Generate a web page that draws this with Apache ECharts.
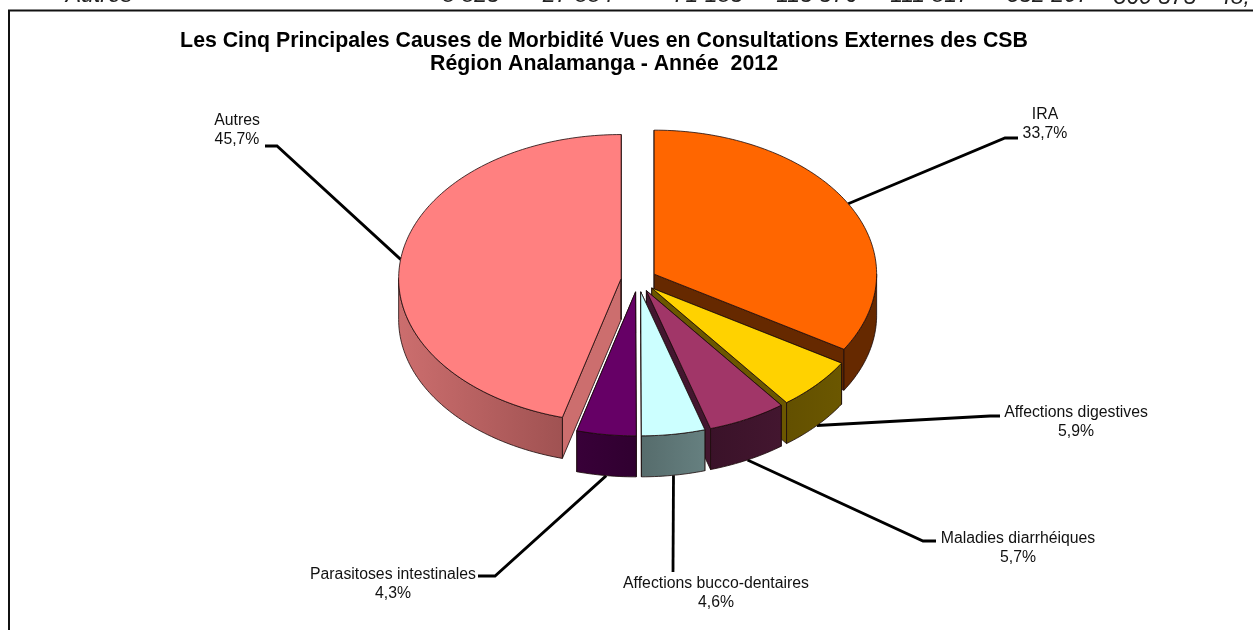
<!DOCTYPE html>
<html>
<head>
<meta charset="utf-8">
<style>html,body{margin:0;padding:0;background:#fff}#c{width:1253px;height:630px}</style>
<script src="https://cdn.jsdelivr.net/npm/echarts@6/dist/echarts.min.js"></script>
</head>
<body>
<div id="c"></div>
<script>
const categories = ['IRA','Affections digestives','Maladies diarrhéiques','Affections bucco-dentaires','Parasitoses intestinales','Autres'];
const values = [33.7,5.9,5.7,4.6,4.3,45.7];
const titleLines = ['Les Cinq Principales Causes de Morbidité Vues en Consultations Externes des CSB','Région Analamanga - Année  2012'];
const clippedRow = ['Autres','8 825','27 884','71 185','115 576','111 817','352 207','360 575','48,'];

const topColors = ['#FF6600','#FFD200','#A13668','#CCFFFF','#660066','#FF8080'];
const wallLeft = ['#662900','#6B5700','#43162F','#668080','#380038','#CC6E6E'];
const wallRight = ['#662900','#635000','#3A1229','#566C6C','#300030','#A05252'];
const radialWall = ['#662900','#6B5700','#43162F','#668080','#380038','#CC6E6E'];

const pie = {cx:638,cy:280,a:222.5,b:144,depth:41};
const explode = [18.5,18.5,18.5,18.5,18.5,17];
const labelCenters = [[1045,124.5],[1076,422.5],[1018,548],[716,593.5],[393,584.5],[237,130.5]];
const leaderBends = [
  [[1005,138],[1018,138]],
  [[990,416],[1000,416]],
  [[923,541],[936,541]],
  [[673,572]],
  [[495,576],[478,576]],
  [[277,146],[265,146]]
];
const rowX = [99,471,578,708,817,930,1048,1155,1234];
const rowY = [-4,-4,-4,-4,-4,-4,-4,-2,-2];

const total = values.reduce((s,v)=>s+v,0);
const starts = [];
values.reduce((s,v,i)=>{starts[i]=s;return s+v;},0);
const ang = v => v/total*2*Math.PI;

function renderItem(params, api){
  const i = params.dataIndex;
  const v = api.value(0);
  const t0 = ang(starts[i]), t1 = t0 + ang(v), mid = (t0+t1)/2;
  const ox = pie.cx + explode[i]*Math.sin(mid);
  const oy = pie.cy - explode[i]*Math.cos(mid)*pie.b/pie.a;
  const pt = (t,dz)=>[ox+pie.a*Math.sin(t), oy-pie.b*Math.cos(t)+(dz||0)];
  const rim = (a0,a1,dz)=>{
    const n = Math.max(2,Math.ceil((a1-a0)/0.02)), r=[];
    for(let k=0;k<=n;k++) r.push(pt(a0+(a1-a0)*k/n,dz));
    return r;
  };
  const edge = {stroke:'#1a0a0a',lineWidth:0.8};
  const children = [];
  const anchorDz = Math.cos(mid)<0 ? pie.depth : 0;
  children.push({type:'polyline',shape:{points:[pt(mid,anchorDz)].concat(leaderBends[i])},
    style:{stroke:'#000',lineWidth:2.8,fill:null}});
  const wall = (t)=>({type:'polygon',shape:{points:[[ox,oy],pt(t),pt(t,pie.depth),[ox,oy+pie.depth]]},
    style:Object.assign({fill:radialWall[i]},edge)});
  children.push(wall(t0),wall(t1));
  const fa = Math.max(t0,Math.PI/2), fb = Math.min(t1,1.5*Math.PI);
  if(fb>fa){
    const pts = rim(fa,fb,0).concat(rim(fa,fb,pie.depth).reverse());
    const rev = fa<Math.PI && fb<=Math.PI;
    children.push({type:'polygon',shape:{points:pts},style:Object.assign({
      fill:{type:'linear',x:0,y:0,x2:1,y2:0,colorStops:[
        {offset:0,color:rev?wallRight[i]:wallLeft[i]},{offset:1,color:rev?wallLeft[i]:wallRight[i]}]}
    },edge)});
  }
  children.push({type:'polygon',shape:{points:[[ox,oy]].concat(rim(t0,t1,0))},
    style:Object.assign({fill:topColors[i]},edge)});
  children.push({type:'text',style:{
    text:categories[i]+'\n'+v.toFixed(1).replace('.',',')+'%',
    x:labelCenters[i][0],y:labelCenters[i][1],align:'center',verticalAlign:'middle',
    fill:'#111',font:'15.8px "Liberation Sans"',lineHeight:19}});
  return {type:'group',children:children};
}

const chart = echarts.init(document.getElementById('c'),null,{renderer:'canvas'});
chart.setOption({
  animation:false,
  backgroundColor:'#fff',
  title:{text:titleLines.join('\n'),left:599,top:24,textAlign:'center',
    textStyle:{fontFamily:'"Liberation Sans"',fontWeight:'bold',fontSize:21.3,lineHeight:23.5,color:'#000'}},
  graphic:[
    {type:'polyline',silent:true,shape:{points:[[9,630],[9,10.5],[1253,10.5]]},style:{stroke:'#111',lineWidth:2,fill:null}}
  ].concat(clippedRow.map((t,i)=>({type:'text',silent:true,style:{
    text:t,x:rowX[i],y:rowY[i],align:'center',verticalAlign:'middle',
    fill:'#222',font:'italic 23px "Liberation Sans"'}}))),
  series:[{type:'custom',coordinateSystem:'none',silent:true,clip:false,
    data:values.map(v=>[v]),renderItem:renderItem}]
});
</script>
</body>
</html>
